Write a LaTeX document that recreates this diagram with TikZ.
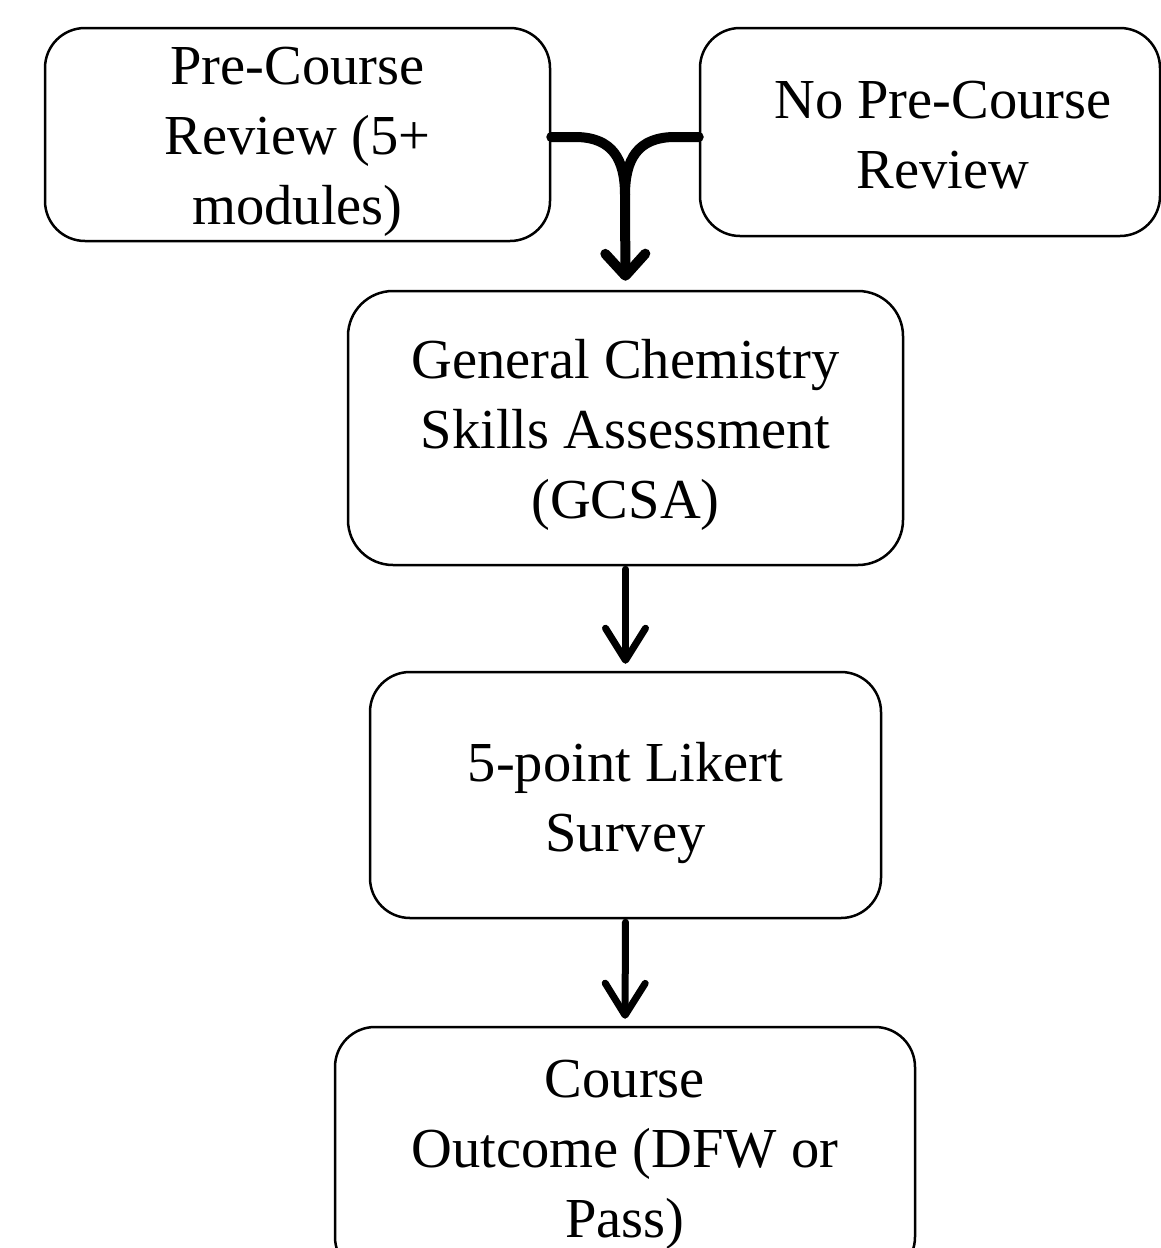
\documentclass[tikz,border=0pt]{standalone}
\usepackage{fontspec}
\setmainfont{Liberation Serif}
\usetikzlibrary{arrows.meta}
\newcommand{\topgap}[1]{\rule{0pt}{#1}}
\begin{document}
\begin{tikzpicture}[x=1pt,y=-1pt,
  box/.style={draw=black, line width=2.5pt, rounded corners=40pt, align=center,
    font=\fontsize{56.5}{70}\selectfont, inner sep=0pt},
  merge/.style={line width=10pt, line cap=round, line join=round},
  flow/.style={line width=7pt, line cap=round,
    -{Straight Barb[length=32pt,width=40pt,line cap=round,line join=round]}},
]
\useasboundingbox (0,0) rectangle (1161,1248);
\node[box, minimum width=505pt, minimum height=213pt] (A) at (297.5,134.5) {\topgap{52pt}Pre-Course\\Review (5+\\modules)};
\node[box, minimum width=460pt, minimum height=208pt] (B) at (930,132) {\topgap{44pt}\hspace*{26pt}No Pre-Course\\\hspace*{26pt}Review};
\node[box, minimum width=555pt, minimum height=274pt, rounded corners=45pt] (C) at (625.5,428) {\topgap{53pt}General Chemistry\\Skills Assessment\\(GCSA)};
\node[box, minimum width=511pt, minimum height=246pt] (D) at (625.5,795) {\topgap{55pt}5-point Likert\\Survey};
\node[box, minimum width=580pt, minimum height=250pt] (E) at (625,1152) {\topgap{42pt}Course\\Outcome (DFW or\\Pass)};
\coordinate (j) at (625,137);
\coordinate (m) at (625,195);
\draw[merge] (A.east |- j) -- (575,137) .. controls (613,137) and (625,160) .. (m);
\draw[merge, -{Straight Barb[length=22pt,width=40pt,line cap=round,line join=round]}, shorten >=9pt]
  (B.west |- j) -- (675,137) .. controls (637,137) and (625,160) .. (m) -- (C.north);
\draw[flow, shorten <=3pt, shorten >=7pt] (C.south) -- (D.north);
\draw[flow, shorten <=3pt, shorten >=7pt] (D.south) -- (E.north);
\end{tikzpicture}
\end{document}
